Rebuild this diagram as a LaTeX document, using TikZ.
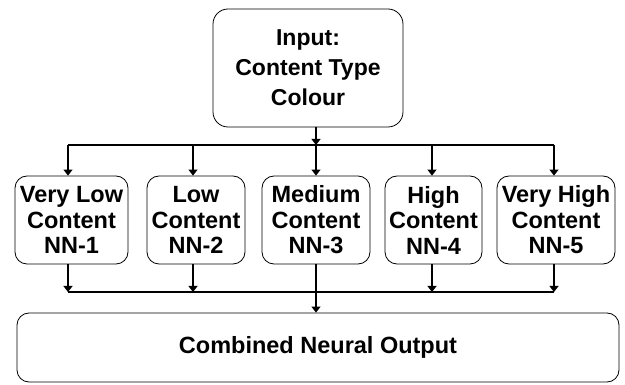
\documentclass[tikz,border=0pt]{standalone}
\usepackage{fontspec}
\setmainfont{Liberation Sans}
\usetikzlibrary{arrows.meta}

\begin{document}
\begin{tikzpicture}[x=1pt, y=-1pt, line width=1.1pt,
  box/.style={draw, line width=0.8pt, rounded corners=12pt, align=center,
    inner sep=0pt, font=\fontsize{23.5}{25.5}\selectfont\bfseries},
  nnbox/.style={box, minimum height=88pt},
  arr/.style={-{Triangle[length=6pt,width=9pt]}}]
  \useasboundingbox (0,0) rectangle (625,385);

  % input and combined output
  \node[box, minimum width=190pt, minimum height=118pt, rounded corners=15pt,
    font=\fontsize{23}{30}\selectfont\bfseries] (input) at (308,68)
    {Input:\\Content Type\\Colour};
  \node[box, minimum width=602pt, minimum height=69pt] (out) at (318,347.5)
    {Combined Neural Output};

  % the five networks
  \node[nnbox, minimum width=113pt] (nn1) at (71.5,220) {Very Low\\Content\\NN-1};
  \node[nnbox, minimum width=98pt]  (nn2) at (196,220)  {Low\\Content\\NN-2};
  \node[nnbox, minimum width=108pt] (nn3) at (316,220)  {Medium\\Content\\NN-3};
  \node[nnbox, minimum width=97pt]  (nn4) at (433.5,220) {High\\Content\\NN-4};
  \node[nnbox, minimum width=118pt] (nn5) at (556,220)  {Very High\\Content\\NN-5};

  % junctions on the two bars
  \foreach \i/\x in {1/68, 2/193, 3/316, 4/432, 5/554} {
    \coordinate (d\i) at (\x,145);
    \coordinate (u\i) at (\x,292);
  }

  \draw[arr] (input.south -| d3) -- (d3);
  \draw (d1) -- (d5);
  \foreach \i in {1,...,5}
    \draw[arr] (d\i) -- (d\i |- nn\i.north);

  \foreach \i in {1,2,4,5}
    \draw[arr] (d\i |- nn\i.south) -- (u\i);
  \draw (u1) -- (u5);
  \draw[arr] (d3 |- nn3.south) -- (d3 |- out.north);
\end{tikzpicture}
\end{document}
